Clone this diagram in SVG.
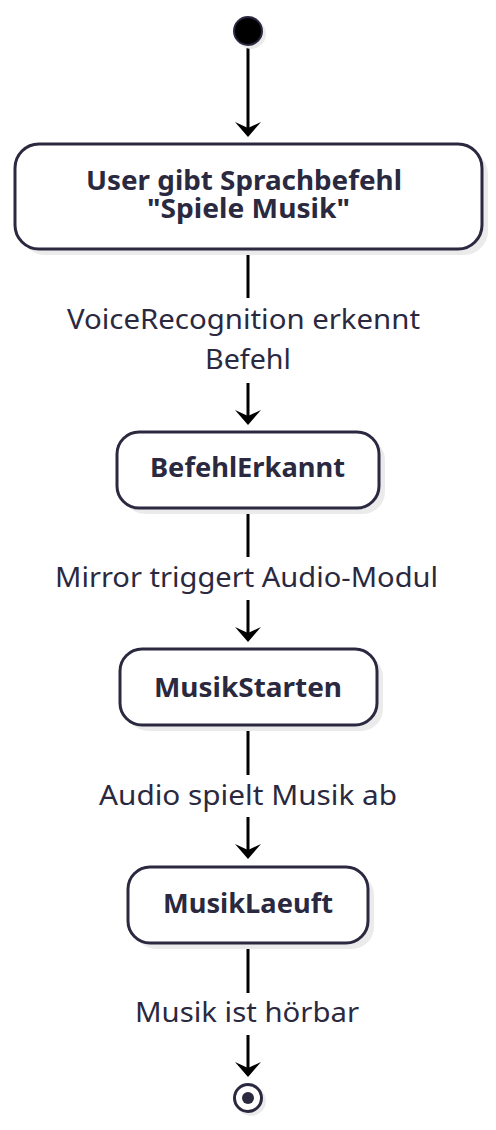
<svg xmlns="http://www.w3.org/2000/svg" width="496" height="1130" viewBox="0 0 496 1130">
<style>
.node rect.box{fill:#ffffff;stroke:#2a2940;stroke-width:3}
.shadow{fill:#ebebeb}
.ntext{font-family:"Noto Sans","Liberation Sans",sans-serif;font-weight:bold;font-size:27px;fill:#2a2940;text-anchor:middle}
.ntext1{font-family:"Noto Sans","Liberation Sans",sans-serif;font-weight:bold;font-size:26px;fill:#2a2940;text-anchor:middle}
.ltext{font-family:"Noto Sans","Liberation Sans",sans-serif;font-size:27px;fill:#2a2940;text-anchor:middle}
.edge{fill:none;stroke:#000;stroke-width:3}
</style>
<defs>
<marker id="arrow" markerUnits="userSpaceOnUse" orient="auto" markerWidth="30" markerHeight="30" viewBox="-8 -15 20 30" refX="0" refY="0" overflow="visible">
<path d="M9,0 L-6,-13 L0,0 L-6,13 Z" fill="#000"/>
</marker>
</defs>
<rect width="496" height="1130" fill="#ffffff"/>
<g id="connectors">
<path class="edge" d="M248,46 L248,128" marker-end="url(#arrow)"/>
<path class="edge" d="M248,249 L248,298 M248,383 L248,416" marker-end="url(#arrow)"/>
<path class="edge" d="M248,508 L248,557 M248,600 L248,633" marker-end="url(#arrow)"/>
<path class="edge" d="M248,725 L248,775 M248,817 L248,850" marker-end="url(#arrow)"/>
<path class="edge" d="M248,943 L248,993 M248,1035 L248,1068" marker-end="url(#arrow)"/>
<text class="ltext" x="243.5" y="329" textLength="353" lengthAdjust="spacingAndGlyphs">VoiceRecognition erkennt</text>
<text class="ltext" x="248" y="369" textLength="86" lengthAdjust="spacingAndGlyphs">Befehl</text>
<text class="ltext" x="246.5" y="587" textLength="383" lengthAdjust="spacingAndGlyphs">Mirror triggert Audio-Modul</text>
<text class="ltext" x="248" y="805" textLength="298" lengthAdjust="spacingAndGlyphs">Audio spielt Musik ab</text>
<text class="ltext" x="247" y="1022" textLength="224" lengthAdjust="spacingAndGlyphs">Musik ist hörbar</text>
</g>
<g id="start">
<circle class="shadow" cx="251" cy="34" r="15"/>
<circle cx="248" cy="31" r="14" fill="#000" stroke="#2a2940" stroke-width="2"/>
</g>
<g id="n1" class="node">
<rect class="shadow" x="21" y="150" width="467" height="105" rx="24"/>
<rect class="box" x="15" y="144" width="467" height="105" rx="24"/>
<text class="ntext1"><tspan x="244" y="190" textLength="316" lengthAdjust="spacingAndGlyphs">User gibt Sprachbefehl</tspan><tspan x="248.5" y="218" textLength="203" lengthAdjust="spacingAndGlyphs">"Spiele Musik"</tspan></text>
</g>
<g id="n2" class="node">
<rect class="shadow" x="123" y="438" width="262" height="76" rx="22"/>
<rect class="box" x="117" y="432" width="262" height="76" rx="22"/>
<text class="ntext" x="247.5" y="477" textLength="195" lengthAdjust="spacingAndGlyphs">BefehlErkannt</text>
</g>
<g id="n3" class="node">
<rect class="shadow" x="126" y="655" width="257" height="76" rx="22"/>
<rect class="box" x="120" y="649" width="257" height="76" rx="22"/>
<text class="ntext" x="248" y="697" textLength="188" lengthAdjust="spacingAndGlyphs">MusikStarten</text>
</g>
<g id="n4" class="node">
<rect class="shadow" x="134" y="873" width="240" height="76" rx="22"/>
<rect class="box" x="128" y="867" width="240" height="76" rx="22"/>
<text class="ntext" x="248" y="913" textLength="170" lengthAdjust="spacingAndGlyphs">MusikLaeuft</text>
</g>
<g id="end">
<circle class="shadow" cx="251" cy="1101" r="15"/>
<circle cx="248" cy="1098" r="13.5" fill="#ffffff" stroke="#2a2940" stroke-width="3"/>
<circle cx="248" cy="1098" r="6" fill="#2a2940"/>
</g>
</svg>
